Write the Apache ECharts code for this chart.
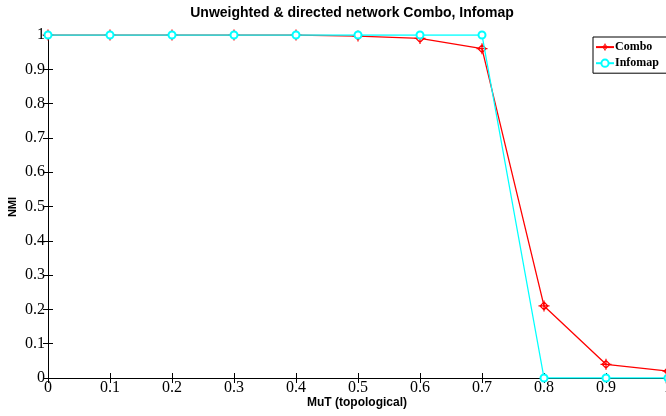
<!DOCTYPE html>
<html>
<head>
<meta charset="utf-8">
<script src="https://cdn.jsdelivr.net/npm/echarts@6/dist/echarts.min.js"></script>
<style>
  html, body { margin: 0; padding: 0; background: #fff; }
  #chart { width: 666px; height: 416px; }
</style>
</head>
<body>
<div id="chart"></div>
<script>
// mu values on x axis
var muT = [0, 0.1, 0.2, 0.3, 0.4, 0.5, 0.6, 0.7, 0.8, 0.9, 1];
var combo = [1, 1, 1, 1, 1, 0.997, 0.99, 0.96, 0.21, 0.04, 0.02];
var infomap = [1, 1, 1, 1, 1, 1, 1, 1, 0, 0, 0];
var seriesNames = ['Combo', 'Infomap'];

function pairs(xs, ys) {
  return xs.map(function (x, i) { return [x, ys[i]]; });
}

// diamond with a plus through it (matlab 'd' + '+')
var diamondPlus = 'path://M0,-5L5,0L0,5L-5,0ZM-7,0L7,0M0,-7L0,7';

var chart = echarts.init(document.getElementById('chart'));
var serif = 'Liberation Serif';
var sans = 'Liberation Sans';

chart.setOption({
  animation: false,
  backgroundColor: '#fff',
  title: {
    text: 'Unweighted & directed network Combo, Infomap',
    left: 347,
    textAlign: 'center',
    top: 1,
    textStyle: { fontFamily: sans, fontSize: 14, fontWeight: 'bold', color: '#000' }
  },
  // axis titles placed by hand, v6 pushes axis names away from labels
  graphic: [{
    type: 'text',
    x: 357, y: 403,
    style: { text: 'MuT (topological)', font: 'bold 12px "Liberation Sans"', fill: '#000', align: 'center', verticalAlign: 'middle' }
  }, {
    type: 'text',
    x: 13, y: 207,
    rotation: Math.PI / 2,
    style: { text: 'NMI', font: 'bold 11px "Liberation Sans"', fill: '#000', align: 'center', verticalAlign: 'middle' }
  }],
  grid: { left: 48, right: -2, top: 35, bottom: 38, outerBoundsMode: 'none' },
  legend: {
    data: [
      { name: seriesNames[0], itemStyle: { color: 'none', borderColor: '#ff0000', borderWidth: 1 } },
      { name: seriesNames[1] }
    ],
    orient: 'vertical',
    left: 593,
    top: 37,
    padding: [4, 8, 4, 2],
    itemGap: 4,
    itemWidth: 18,
    itemHeight: 9,
    borderColor: '#000',
    borderWidth: 1,
    borderRadius: 0,
    backgroundColor: '#fff',
    textStyle: { fontFamily: serif, fontSize: 12, fontWeight: 'bold', color: '#000', padding: [0, 0, 0, -4] }
  },
  xAxis: [{
    type: 'value',
    min: 0, max: 1, interval: 0.1,
    axisLine: { lineStyle: { color: '#000', width: 1 } },
    axisTick: { inside: true, length: 5, lineStyle: { color: '#000' } },
    axisLabel: { fontFamily: serif, fontSize: 16, color: '#000', margin: 2 },
    splitLine: { show: false }
  }, {
    type: 'value',
    position: 'top',
    min: 0, max: 1, interval: 0.1,
    axisLine: { show: true, lineStyle: { color: '#000', width: 1 } },
    axisTick: { inside: true, length: 5, lineStyle: { color: '#000' } },
    axisLabel: { show: false },
    splitLine: { show: false }
  }],
  yAxis: [{
    type: 'value',
    min: 0, max: 1, interval: 0.1,
    axisLine: { show: true, lineStyle: { color: '#000', width: 1 } },
    axisTick: { show: true, inside: true, length: 5, lineStyle: { color: '#000' } },
    axisLabel: { fontFamily: serif, fontSize: 16, color: '#000', margin: 3 },
    splitLine: { show: false }
  }, {
    type: 'value',
    position: 'right',
    min: 0, max: 1, interval: 0.1,
    axisLine: { show: true, lineStyle: { color: '#000', width: 1 } },
    axisTick: { show: true, inside: true, length: 5, lineStyle: { color: '#000' } },
    axisLabel: { show: false },
    splitLine: { show: false }
  }],
  series: [{
    name: seriesNames[0],
    type: 'line',
    data: pairs(muT, combo),
    symbol: diamondPlus,
    symbolSize: 11,
    lineStyle: { color: '#ff0000', width: 1.3 },
    itemStyle: { color: 'none', borderColor: '#ff0000', borderWidth: 1.2 },
    z: 3
  }, {
    name: seriesNames[1],
    type: 'line',
    data: pairs(muT, infomap),
    symbol: 'emptyCircle',
    symbolSize: 7,
    lineStyle: { color: '#00ffff', width: 1.3 },
    itemStyle: { color: '#00ffff', borderColor: '#00ffff', borderWidth: 1.2 },
    z: 4
  }]
});
</script>
</body>
</html>
